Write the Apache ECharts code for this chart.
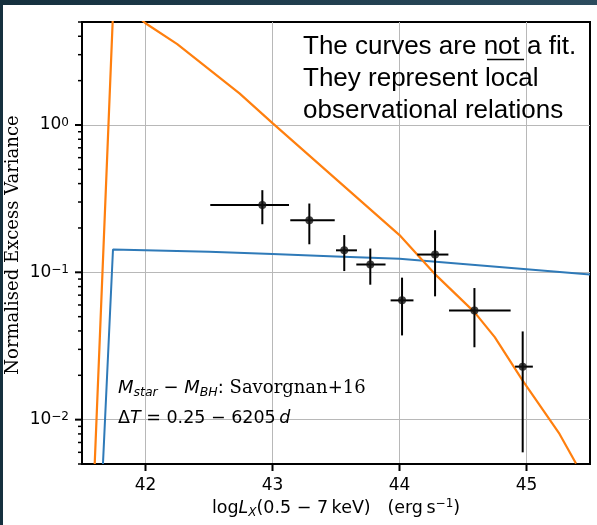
<!DOCTYPE html>
<html>
<head>
<meta charset="utf-8">
<script src="https://cdn.jsdelivr.net/npm/echarts@6.0.0/dist/echarts.min.js"></script>
<style>
html, body { margin: 0; padding: 0; background: #fff; }
#chart { width: 597px; height: 525px; }
</style>
</head>
<body>
<div id="chart"></div>
<script>
// axis range and ticks
var xMin = 41.5, xMax = 45.5;
var yMin = 0.005, yMax = 5;
var xTicks = [42, 43, 44, 45];
var yTicks = [0.01, 0.1, 1];
var yMinorTicks = [0.005, 0.006, 0.007, 0.008, 0.009,
    0.02, 0.03, 0.04, 0.05, 0.06, 0.07, 0.08, 0.09,
    0.2, 0.3, 0.4, 0.5, 0.6, 0.7, 0.8, 0.9,
    2, 3, 4, 5];

// orange relation curve
var orangeX = [41.60, 41.75, 42.0, 42.25, 42.74, 43.0, 44.0, 44.275, 44.59, 44.75, 44.97, 45.26, 45.39];
var orangeY = [0.005, 7.66, 4.9, 3.54, 1.64, 1.03, 0.179, 0.098, 0.0537, 0.0363, 0.0184, 0.0080, 0.00504];

// blue relation curve
var blueX = [41.665, 41.744, 42.5, 43.0, 43.5, 44.0, 44.5, 45.0, 45.5];
var blueY = [0.005, 0.143, 0.138, 0.133, 0.128, 0.1236, 0.114, 0.105, 0.0966];

// binned data points with error bars
var ptX   = [42.92, 43.29, 43.565, 43.77, 44.02, 44.28, 44.59, 44.97];
var ptY   = [0.286, 0.226, 0.141, 0.113, 0.0645, 0.132, 0.0551, 0.0229];
var ptXLo = [42.51, 43.14, 43.50, 43.66, 43.93, 44.14, 44.39, 44.91];
var ptXHi = [43.13, 43.49, 43.665, 43.89, 44.11, 44.385, 44.875, 45.05];
var ptYLo = [0.212, 0.155, 0.102, 0.0824, 0.0373, 0.0687, 0.031, 0.006];
var ptYHi = [0.361, 0.293, 0.179, 0.145, 0.092, 0.193, 0.0782, 0.0397];

function zip(a, b) {
    return a.map(function (v, i) { return [v, b[i]]; });
}

var errData = ptX.map(function (v, i) {
    return [v, ptY[i], ptXLo[i], ptXHi[i], ptYLo[i], ptYHi[i]];
});

var myChart = echarts.init(document.getElementById('chart'));

var option = {
    animation: false,
    backgroundColor: '#fff',
    grid: {
        left: 82, right: 7, top: 22, bottom: 61,
        show: true,
        borderColor: '#000',
        borderWidth: 2,
        backgroundColor: 'transparent',
        outerBoundsMode: 'none'
    },
    xAxis: {
        type: 'value',
        min: xMin,
        max: xMax,
        axisLine: { show: true, lineStyle: { color: '#000', width: 2 } },
        axisTick: { show: false, customValues: xTicks },
        axisLabel: {
            customValues: xTicks,
            margin: 13,
            color: '#000',
            fontFamily: 'DejaVu Sans',
            fontSize: 17
        },
        splitLine: { show: true, lineStyle: { color: '#b8b8b8', width: 1 } }
    },
    yAxis: {
        type: 'log',
        logBase: 10,
        min: yMin,
        max: yMax,
        axisLine: { show: true, lineStyle: { color: '#000', width: 2 } },
        axisTick: { show: false, customValues: yTicks },
        axisLabel: {
            customValues: yTicks,
            margin: 13,
            formatter: function (v) {
                var e = Math.round(Math.log(v) / Math.LN10);
                return '{b|10}{s|' + String(e).replace('-', '\u2212') + '}';
            },
            rich: {
                b: { fontFamily: 'DejaVu Sans', fontSize: 17, color: '#000', lineHeight: 17 },
                s: { fontFamily: 'DejaVu Sans', fontSize: 12, color: '#000', lineHeight: 12, verticalAlign: 'top' }
            }
        },
        splitLine: { show: true, lineStyle: { color: '#b8b8b8', width: 1 } }
    },
    series: [
        {
            type: 'line',
            data: zip(blueX, blueY),
            symbol: 'none',
            lineStyle: { color: '#2f7ab8', width: 2 },
            z: 2
        },
        {
            type: 'line',
            data: zip(orangeX, orangeY),
            symbol: 'none',
            lineStyle: { color: '#ff7f0e', width: 2.2 },
            z: 2
        },
        {
            type: 'custom',
            data: errData,
            encode: { x: 0, y: 1 },
            z: 3,
            renderItem: function (params, api) {
                var x = api.value(0), y = api.value(1);
                var l = api.coord([api.value(2), y]);
                var r = api.coord([api.value(3), y]);
                var b = api.coord([x, api.value(4)]);
                var t = api.coord([x, api.value(5)]);
                var st = { stroke: '#000', lineWidth: 2 };
                return {
                    type: 'group',
                    children: [
                        { type: 'line', shape: { x1: l[0], y1: l[1], x2: r[0], y2: r[1] }, style: st },
                        { type: 'line', shape: { x1: b[0], y1: b[1], x2: t[0], y2: t[1] }, style: st }
                    ]
                };
            }
        },
        {
            type: 'scatter',
            data: zip(ptX, ptY),
            symbol: 'circle',
            symbolSize: 8,
            itemStyle: { color: '#111' },
            z: 4
        }
    ]
};

myChart.setOption(option, true);

// outward tick marks, placed through the axes' own scales
function px(v) { return myChart.convertToPixel({ xAxisIndex: 0 }, v); }
function py(v) { return myChart.convertToPixel({ yAxisIndex: 0 }, v); }

var x0 = px(xMin), y0 = py(yMin);
var graphics = [];

xTicks.forEach(function (v) {
    var x = px(v);
    graphics.push({
        type: 'line',
        shape: { x1: x, y1: y0, x2: x, y2: y0 + 7 },
        style: { stroke: '#000', lineWidth: 2 }
    });
});
yTicks.forEach(function (v) {
    var y = py(v);
    graphics.push({
        type: 'line',
        shape: { x1: x0, y1: y, x2: x0 - 7, y2: y },
        style: { stroke: '#000', lineWidth: 2 }
    });
});
yMinorTicks.forEach(function (v) {
    var y = py(v);
    graphics.push({
        type: 'line',
        shape: { x1: x0, y1: y, x2: x0 - 4, y2: y },
        style: { stroke: '#000', lineWidth: 1.5 }
    });
});

// texts and slide frame
graphics = graphics.concat([
    {
        type: 'rect', left: 0, top: 0, z: 100,
        shape: { width: 597, height: 5 },
        style: {
            fill: new echarts.graphic.LinearGradient(0, 0, 1, 0, [
                { offset: 0, color: '#15303e' },
                { offset: 1, color: '#2c4c5e' }
            ])
        }
    },
    {
        type: 'rect', left: 0, top: 0, z: 100,
        shape: { width: 3, height: 525 },
        style: { fill: '#15303e' }
    },
    {
        type: 'text', x: 13, y: 245, rotation: Math.PI / 2,
        style: {
            text: 'Normalised Excess Variance',
            fontFamily: 'DejaVu Serif', fontSize: 18, fill: '#000',
            textAlign: 'center', textVerticalAlign: 'middle'
        }
    },
    {
        type: 'text', x: 336, y: 508,
        style: {
            text: '{r|log}{i|L}{sub|X}{r|(0.5 \u2212 7\u2009keV)   (erg\u2009s}{sup|\u22121}{r|)}',
            textAlign: 'center', textVerticalAlign: 'middle',
            rich: {
                r: { fontFamily: 'DejaVu Sans', fontSize: 17.5, fill: '#000', lineHeight: 21 },
                i: { fontFamily: 'DejaVu Sans', fontStyle: 'italic', fontSize: 17.5, fill: '#000', lineHeight: 21 },
                sub: { fontFamily: 'DejaVu Sans', fontStyle: 'italic', fontSize: 12, fill: '#000', lineHeight: 12, verticalAlign: 'bottom' },
                sup: { fontFamily: 'DejaVu Sans', fontSize: 12, fill: '#000', lineHeight: 12, verticalAlign: 'top' }
            }
        }
    },
    {
        type: 'text', x: 303, y: 47,
        style: { text: 'The curves are not a fit.', fontFamily: 'Liberation Sans', fontSize: 26, fill: '#000', textVerticalAlign: 'middle' }
    },
    {
        type: 'text', x: 303, y: 79,
        style: { text: 'They represent local', fontFamily: 'Liberation Sans', fontSize: 26, fill: '#000', textVerticalAlign: 'middle' }
    },
    {
        type: 'text', x: 303, y: 111,
        style: { text: 'observational relations', fontFamily: 'Liberation Sans', fontSize: 26, fill: '#000', textVerticalAlign: 'middle' }
    },
    {
        type: 'line',
        shape: { x1: 487, y1: 59.5, x2: 524, y2: 59.5 },
        style: { stroke: '#000', lineWidth: 1.5 }
    },
    {
        type: 'text', x: 118, y: 388,
        style: {
            text: '{i|M}{sub|star}{r| \u2212 }{i|M}{sub|BH}{r|: }{s|Savorgnan+16}',
            textVerticalAlign: 'middle',
            rich: {
                r: { fontFamily: 'DejaVu Sans', fontSize: 18, fill: '#000', lineHeight: 22 },
                i: { fontFamily: 'DejaVu Sans', fontStyle: 'italic', fontSize: 18, fill: '#000', lineHeight: 22 },
                sub: { fontFamily: 'DejaVu Sans', fontStyle: 'italic', fontSize: 12.5, fill: '#000', lineHeight: 12, verticalAlign: 'bottom' },
                s: { fontFamily: 'DejaVu Serif', fontSize: 18, fill: '#000', lineHeight: 22 }
            }
        }
    },
    {
        type: 'text', x: 118, y: 418,
        style: {
            text: '{r|\u0394}{i|T}{r| = 0.25 \u2212 6205\u2009}{i|d}',
            textVerticalAlign: 'middle',
            rich: {
                r: { fontFamily: 'DejaVu Sans', fontSize: 17.5, fill: '#000', lineHeight: 22 },
                i: { fontFamily: 'DejaVu Sans', fontStyle: 'italic', fontSize: 17.5, fill: '#000', lineHeight: 22 }
            }
        }
    }
]);

myChart.setOption({ graphic: graphics });
</script>
</body>
</html>
